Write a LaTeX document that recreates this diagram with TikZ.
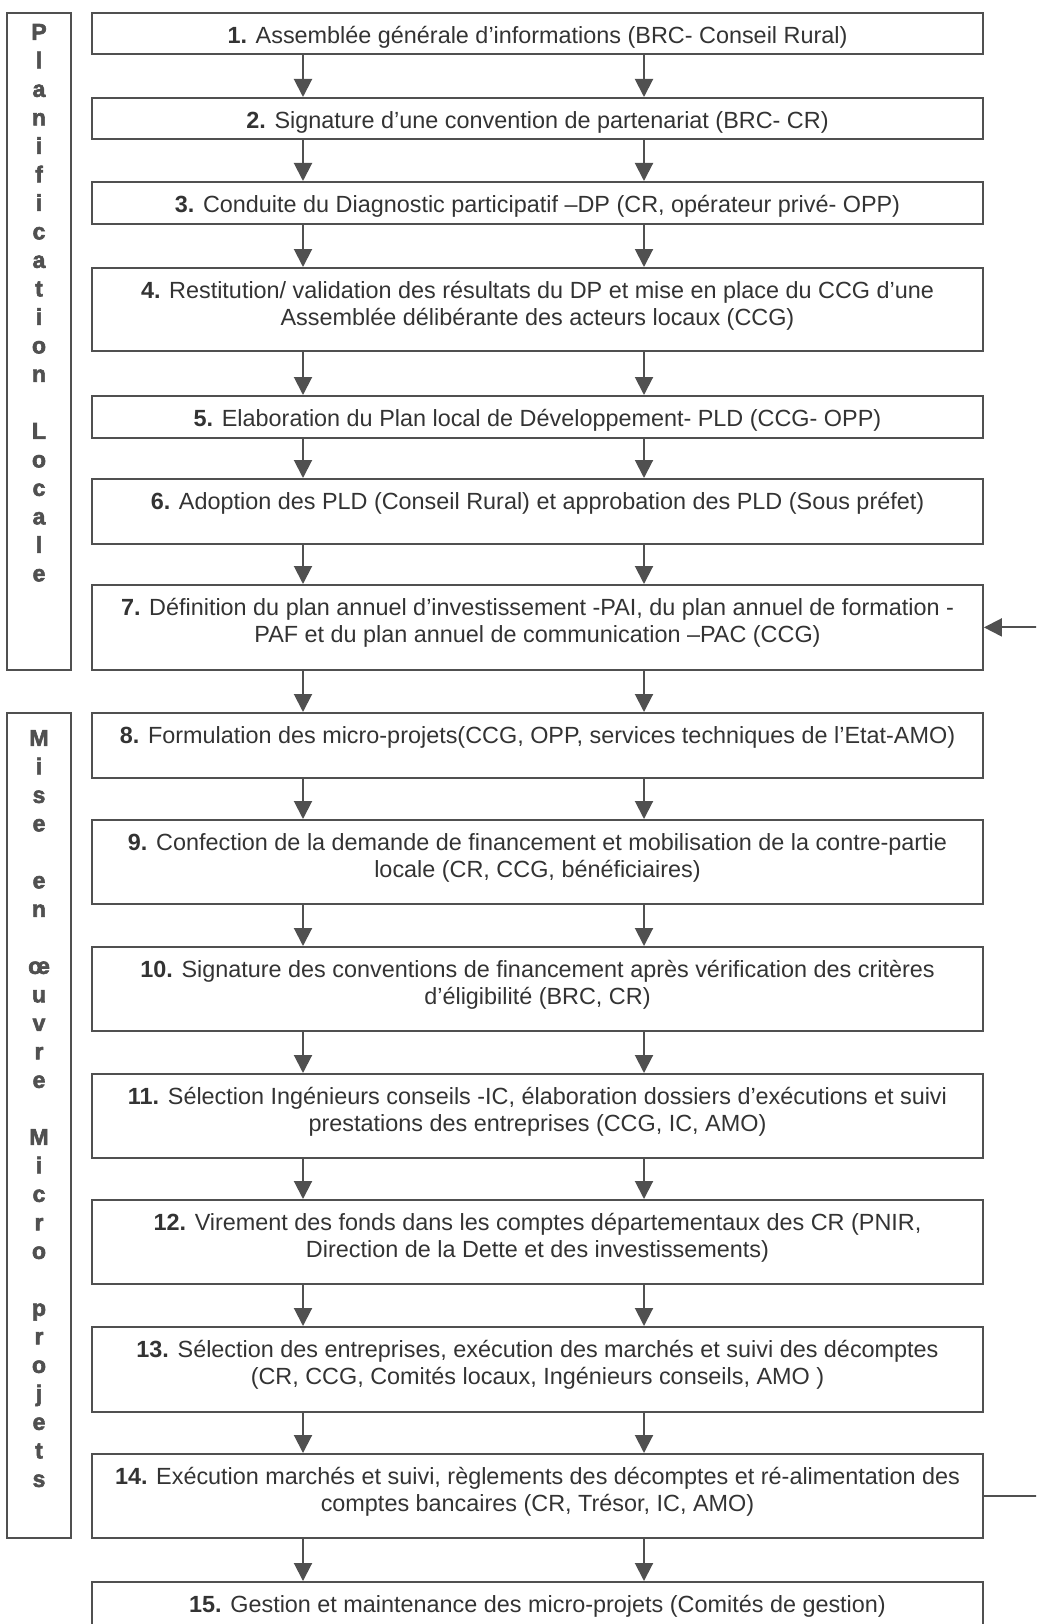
\documentclass[tikz,border=0pt]{standalone}
\usepackage{fontspec}
\setmainfont{Liberation Sans}
\newfontfamily\sidefont{Liberation Sans Bold}[FakeBold=2.5]
\usepackage{xcolor}
\usepackage{tikz}
\usetikzlibrary{arrows.meta,positioning}

\definecolor{inkgray}{HTML}{333333}
\definecolor{linegray}{HTML}{505050}

% text block of fixed size, lines hung from the top
\newcommand{\boxtext}[4]{%
  \vbox to #2{\vskip #3\hbox to #1{\hss\begin{tabular}[t]{@{}c@{}}#4\end{tabular}\hss}\vfil}}
\newcommand{\steptext}[2]{\boxtext{891pt}{#1}{12.5pt}{#2}}
\newcommand{\sidetext}[3]{\boxtext{64pt}{#1}{#2}{#3}}

\begin{document}
\begin{tikzpicture}[x=1pt,y=-1pt,
  stepbox/.style={draw=linegray,line width=1.8pt,inner sep=0pt,anchor=north,
    text=inkgray,font=\fontsize{23.4}{26.5}\selectfont},
  sidebox/.style={draw=linegray,line width=1.8pt,inner sep=0pt,anchor=north,
    text=linegray,font=\sidefont\fontsize{23}{28.5}\selectfont},
  flow/.style={-{Triangle[length=18pt,width=18pt]},line width=2pt,linegray},
  link/.style={line width=2pt,linegray}
]
\useasboundingbox (0,0) rectangle (1036,1624);
\clip (0,0) rectangle (1036,1624);

% Phase labels
\node[sidebox] (plan) at (39,12) {\sidetext{657pt}{7pt}{P\\l\\a\\n\\i\\f\\i\\c\\a\\t\\i\\o\\n\\ \\L\\o\\c\\a\\l\\e}};
\node[sidebox] (mise) at (39,712) {\sidetext{825pt}{13pt}{M\\i\\s\\e\\ \\e\\n\\ \\œ\\u\\v\\r\\e\\ \\M\\i\\c\\r\\o\\ \\p\\r\\o\\j\\e\\t\\s}};

% Planning steps
\node[stepbox] (s1) at (537.5,12) {\steptext{41pt}{\textbf{1.} Assemblée générale d’informations (BRC- Conseil Rural)}};
\node[stepbox] (s2) at (537.5,97) {\steptext{41pt}{\textbf{2.} Signature d’une convention de partenariat (BRC- CR)}};
\node[stepbox] (s3) at (537.5,181) {\steptext{42pt}{\textbf{3.} Conduite du Diagnostic participatif –DP (CR, opérateur privé- OPP)}};
\node[stepbox] (s4) at (537.5,267) {\steptext{83pt}{\textbf{4.} Restitution/ validation des résultats du DP et mise en place du CCG d’une\\Assemblée délibérante des acteurs locaux (CCG)}};
\node[stepbox] (s5) at (537.5,395) {\steptext{42pt}{\textbf{5.} Elaboration du Plan local de Développement- PLD (CCG- OPP)}};
\node[stepbox] (s6) at (537.5,478) {\steptext{65pt}{\textbf{6.} Adoption des PLD (Conseil Rural) et approbation des PLD (Sous préfet)}};
\node[stepbox] (s7) at (537.5,584) {\steptext{85pt}{\textbf{7.} Définition du plan annuel d’investissement -PAI, du plan annuel de formation -\\PAF et du plan annuel de communication –PAC (CCG)}};

% Implementation steps
\node[stepbox] (s8) at (537.5,712) {\steptext{65pt}{\textbf{8.} Formulation des micro-projets(CCG, OPP, services techniques de l’Etat-AMO)}};
\node[stepbox] (s9) at (537.5,819) {\steptext{84pt}{\textbf{9.} Confection de la demande de financement et mobilisation de la contre-partie\\locale (CR, CCG, bénéficiaires)}};
\node[stepbox] (s10) at (537.5,946) {\steptext{84pt}{\textbf{10.} Signature des conventions de financement après vérification des critères\\d’éligibilité (BRC, CR)}};
\node[stepbox] (s11) at (537.5,1073) {\steptext{84pt}{\textbf{11.} Sélection Ingénieurs conseils -IC, élaboration dossiers d’exécutions et suivi\\prestations des entreprises (CCG, IC, AMO)}};
\node[stepbox] (s12) at (537.5,1199) {\steptext{84pt}{\textbf{12.} Virement des fonds dans les comptes départementaux des CR (PNIR,\\Direction de la Dette et des investissements)}};
\node[stepbox] (s13) at (537.5,1326) {\steptext{85pt}{\textbf{13.} Sélection des entreprises, exécution des marchés et suivi des décomptes\\(CR, CCG, Comités locaux, Ingénieurs conseils, AMO )}};
\node[stepbox] (s14) at (537.5,1453) {\steptext{84pt}{\textbf{14.} Exécution marchés et suivi, règlements des décomptes et ré-alimentation des\\comptes bancaires (CR, Trésor, IC, AMO)}};
\node[stepbox] (s15) at (537.5,1581) {\steptext{65pt}{\textbf{15.} Gestion et maintenance des micro-projets (Comités de gestion)}};

% Double arrows between steps
\foreach \a/\b in {1/2,2/3,3/4,4/5,5/6,6/7,7/8,8/9,9/10,10/11,11/12,12/13,13/14,14/15}{
  \draw[flow] ([xshift=-234.5pt]s\a.south) -- ([xshift=-234.5pt]s\b.north);
  \draw[flow] ([xshift=106.5pt]s\a.south) -- ([xshift=106.5pt]s\b.north);
}

% Feedback from step 14 to step 7
\coordinate (ret7) at ([xshift=60pt]s7.east);
\coordinate (ret14) at ([xshift=60pt]s14.east);
\draw[flow] (ret7) -- (s7.east);
\draw[link] (s14.east) -- (ret14);
\end{tikzpicture}
\end{document}
